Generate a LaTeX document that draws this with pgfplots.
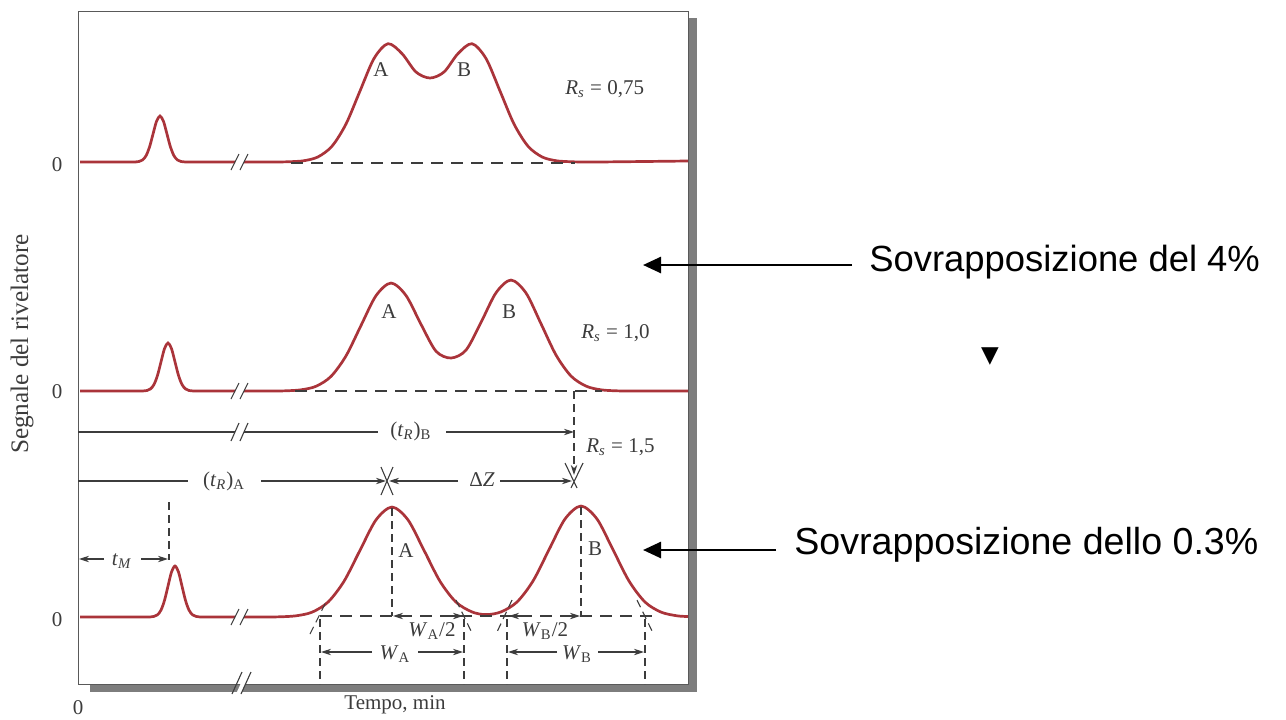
\documentclass[border=0pt]{standalone}
\usepackage{pgfplots}
\pgfplotsset{compat=1.18}
\usepackage{fontspec}
\setmainfont{Liberation Serif}
\newfontfamily\annot{Liberation Sans}
\newfontfamily\dejavu{DejaVu Sans}
\usetikzlibrary{arrows.meta}
\definecolor{trace}{RGB}{170,52,58}
\definecolor{anncol}{RGB}{60,60,60}
\definecolor{shadowc}{RGB}{125,125,125}
\tikzset{
  ann/.style={draw=anncol, line width=0.55pt},
  dsh/.style={ann, dash pattern=on 6pt off 4pt},
  sdsh/.style={ann, dash pattern=on 4pt off 2.5pt},
  ah/.style={-{Stealth[length=5pt,width=3.2pt]}},
  lab/.style={font=\fontsize{10.5}{12}\selectfont, text=anncol, inner sep=0pt},
  tr/.style={color=trace, line width=1.35pt, smooth, no markers},
}
\begin{document}
\begin{tikzpicture}
\begin{axis}[
  scale only axis, width=643pt, height=359.5pt,
  xmin=0, xmax=1286, ymin=0, ymax=719, y dir=reverse,
  axis lines=none, clip=false,
]
% frame with shadow
\fill[shadowc] (688,18) rectangle (697,692);
\fill[shadowc] (90,684) rectangle (697,692);
\draw[color=gray!70!black, line width=0.5pt] (78,11) rectangle (688,684);
% break on bottom border
\fill[white] (236,694) -- (241,694) -- (251,672) -- (246,672) -- cycle;
\draw[ann] (232,694) -- (242,672) (241,694) -- (251,672);

% ---------- top trace (Rs = 0.75) ----------
\addplot[tr] coordinates {(80,162) (132,162) (135.5,161.9) (139,161.5) (142.5,160) (146,155.8) (149.5,147.1) (153,134.1) (156.5,121.4) (160,116) (163.5,121.4) (167,134.1) (170.5,147.1) (174,155.8) (177.5,160) (181,161.5) (184.5,161.9) (188,162) (191.5,162) (235,162)};
\addplot[tr] coordinates {(244,162) (262,162) (276,162) (290,161.7) (304,160.7) (318,156.9) (332,146.2) (346,124.0) (360,91.0) (374,58.5) (388,43.7) (402,53.6) (416,72) (430,78) (444,72) (458,53.6) (472,43.7) (486,58.5) (500,91.0) (514,124.0) (528,146.2) (542,156.9) (556,160.7) (570,161.7) (584,162) (598,162) (688,161)};
\draw[ann] (231,170) -- (239,154) (240,170) -- (248,154);
\draw[dsh] (291,163) -- (575,163);
\node[lab] at (381,70) {A};
\node[lab] at (464,70) {B};
\node[lab, anchor=west] at (565,89) {\textit{R}\textsubscript{\textit{s}} = 0,75};

% ---------- middle trace (Rs = 1.0) ----------
\addplot[tr] coordinates {(80,391) (136.5,391) (140,391) (143.5,390.9) (147,390.5) (150.5,388.9) (154,384.5) (157.5,375.4) (161,361.9) (164.5,348.6) (168,343) (171.5,348.6) (175,361.9) (178.5,375.4) (182,384.5) (185.5,388.9) (189,390.5) (192.5,390.9) (196,391) (199.5,391) (235,391)};
\addplot[tr] coordinates {(244,391) (256,391) (271,391) (286,390.8) (301,389.8) (316,386.3) (331,376.4) (346,355.9) (361,325.5) (376,295.7) (391,283.0) (406,295.5) (421,324.3) (436,351.2) (451,358.0) (466,350.1) (481,322.4) (496,292.8) (511,280.0) (526,293.0) (541,323.7) (556,355.0) (571,376.0) (586,386.1) (601,389.8) (616,390.8) (631,391) (646,391) (688,391)};
\draw[ann] (231,399) -- (239,383) (240,399) -- (248,383);
\draw[dsh] (295,391) -- (602,391);
\draw[sdsh, ah] (574,391) -- (574,475);
\node[lab] at (389,312) {A};
\node[lab] at (509,312) {B};
\node[lab, anchor=west] at (581,333) {\textit{R}\textsubscript{\textit{s}} = 1,0};

% (tR)B line
\draw[ann] (78,432) -- (235,432);
\fill[white] (235,441) -- (240,441) -- (248,423) -- (243,423) -- cycle;
\draw[ann] (231,441) -- (239,423) (240,441) -- (248,423);
\draw[ann] (244,432) -- (378,432);
\node[lab] at (411,431) {(\textit{t}\textsubscript{\textit{R}})\textsubscript{B}};
\draw[ann, ah] (446,432) -- (574,432);
\node[lab, anchor=west] at (586,447) {\textit{R}\textsubscript{\textit{s}} = 1,5};

% (tR)A and Delta Z
\draw[ann] (78,481) -- (188,481);
\node[lab] at (224,481) {(\textit{t}\textsubscript{\textit{R}})\textsubscript{A}};
\draw[ann, ah] (261,481) -- (386,481);
\draw[ann, ah] (458,481) -- (389,481);
\node[lab] at (482,480) {Δ\textit{Z}};
\draw[ann, ah] (500,481) -- (572,481);
\draw[ann] (381,467) -- (393,495) (393,467) -- (381,495);
\draw[ann] (565,463) -- (577,488) (583,463) -- (571,488);

% ---------- bottom trace (Rs = 1.5) ----------
\addplot[tr] coordinates {(80,617) (143.5,617) (147,617) (150.5,616.9) (154,616.4) (157.5,614.8) (161,610.1) (164.5,600.4) (168,586.1) (171.5,572) (175,566) (178.5,572) (182,586.1) (185.5,600.4) (189,610.1) (192.5,614.8) (196,616.4) (199.5,616.9) (203,617) (206.5,617) (235,617)};
\addplot[tr] coordinates {(244,617) (256,617) (264,617) (280,616.8) (296,615.8) (312,612.2) (328,602.1) (344,581.3) (360,550.3) (376,519.9) (392,507.0) (408,519.9) (424,550.3) (440,581.3) (456,602.1) (472,611.9) (486,614.6) (501,611.9) (517,602.0) (533,581.0) (549,549.7) (565,519.0) (581,506.0) (597,519.0) (613,549.7) (629,581.0) (645,602.0) (661,612.1) (677,615.8) (688,616.5)};
\draw[ann] (231,625) -- (239,609) (240,625) -- (248,609);
% tM
\draw[sdsh] (169,502) -- (169,560);
\draw[ann, ah] (104,559) -- (79,559);
\draw[ann, ah] (141,559) -- (168,559);
\node[lab] at (122,561) {\textit{t}\textsubscript{\textit{M}}};
% apex verticals and baseline
\draw[sdsh] (392,508) -- (392,616);
\draw[sdsh] (581,507) -- (581,616);
\draw[dsh] (320,616) -- (654,616);
\draw[ann, ah] (410,616) -- (393,616);
\draw[ann, ah] (446,616) -- (463,616);
\draw[ann, ah] (526,616) -- (509,616);
\draw[ann, ah] (563,616) -- (580,616);
% tangents
\draw[sdsh] (310,634) -- (327,600);
\draw[sdsh] (456,600) -- (472,633);
\draw[sdsh] (512,600) -- (497,632);
\draw[sdsh] (637,600) -- (653,633);
% width verticals
\draw[sdsh] (320,619) -- (320,684);
\draw[sdsh] (464,619) -- (464,684);
\draw[sdsh] (507,619) -- (507,684);
\draw[sdsh] (645,619) -- (645,684);
\node[lab] at (432,631) {\textit{W}\textsubscript{A}/2};
\node[lab] at (545,631) {\textit{W}\textsubscript{B}/2};
\draw[ann, ah] (372,652) -- (321,652);
\draw[ann, ah] (418,652) -- (463,652);
\node[lab] at (395,654) {\textit{W}\textsubscript{A}};
\draw[ann, ah] (557,652) -- (508,652);
\draw[ann, ah] (598,652) -- (644,652);
\node[lab] at (577,654) {\textit{W}\textsubscript{B}};
\node[lab] at (406,551) {A};
\node[lab] at (595,549) {B};

% axis texts
\node[lab] at (57,165) {0};
\node[lab] at (57,392) {0};
\node[lab] at (57,620) {0};
\node[lab] at (78,708) {0};
\node[lab] at (395,705) {Tempo, min};
\node[lab, rotate=90, font=\fontsize{12.6}{14}\selectfont] at (22,344) {Segnale del rivelatore};

% right annotations
\draw[black, line width=1.3pt, -{Triangle[length=9pt,width=8pt]}] (852,265) -- (643,265);
\node[anchor=west, inner sep=0pt, font=\annot\fontsize{18.2}{22}\selectfont] at (869,262) {Sovrapposizione del 4\%};
\node[inner sep=0pt, font=\dejavu\fontsize{11.5}{12}\selectfont] at (990,357) {▼};
\draw[black, line width=1.3pt, -{Triangle[length=9pt,width=8pt]}] (776,550) -- (643,550);
\node[anchor=west, inner sep=0pt, font=\annot\fontsize{18.8}{22}\selectfont] at (794,545) {Sovrapposizione dello 0.3\%};
\end{axis}
\pgfresetboundingbox
\path (0,0) rectangle (643pt,359.5pt);
\end{tikzpicture}
\end{document}
